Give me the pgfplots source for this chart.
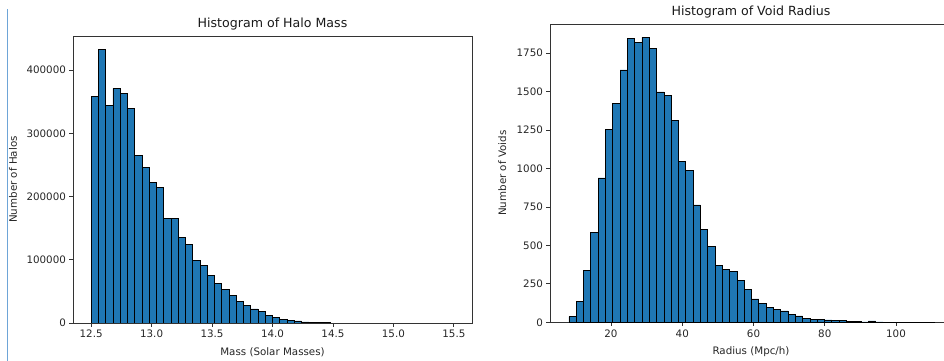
\documentclass[border=0pt]{standalone}
\usepackage{fontspec}
\setmainfont{DejaVu Sans}
\usepackage{pgfplots}
\pgfplotsset{compat=1.18}
\usepackage{pgfplotstable}
\definecolor{mplblue}{HTML}{1F77B4}
\definecolor{cellline}{RGB}{110,165,215}
\pgfplotstableread{
x y
12.50 358000
12.56 432600
12.62 344700
12.68 371000
12.74 362600
12.80 339000
12.86 265000
12.92 245800
12.98 222100
13.04 214700
13.10 165800
13.16 165800
13.22 135800
13.28 124700
13.34 98900
13.40 90500
13.46 75300
13.52 63200
13.58 53700
13.64 43200
13.70 34800
13.76 27400
13.82 22300
13.88 18000
13.94 12600
14.00 8900
14.06 6300
14.12 4700
14.18 3200
14.24 1600
14.30 800
14.36 400
14.42 200
14.48 0
}\halodata
\pgfplotstableread{
x y
8.2 37
10.25 134
12.3 335
14.35 587
16.4 939
18.45 1253
20.5 1422
22.55 1641
24.6 1846
26.65 1820
28.7 1853
30.75 1781
32.8 1498
34.85 1476
36.9 1314
38.95 1046
41.0 989
43.05 763
45.1 606
47.15 491
49.2 369
51.25 344
53.3 330
55.35 275
57.4 216
59.45 152
61.5 123
63.55 95
65.6 84
67.65 74
69.7 50
71.75 41
73.8 26
75.85 19
77.9 19
79.95 15
82.0 11
84.05 11
86.1 6
88.15 6
90.2 2
92.25 9
94.3 2
96.35 1
98.4 1
100.45 0
102.5 1
104.55 0
106.6 0
108.65 1
110.7 0
}\voiddata
\pgfplotsset{
  every axis title shift=0pt,
  mplstyle/.style={
    scale only axis,
    axis line style={black!80, line width=0.8pt},
    tick style={black!80, line width=0.8pt},
    tick align=outside,
    major tick length=3.6pt,
    xtick pos=bottom, ytick pos=left,
    tick label style={font=\fontsize{10.3}{12}\selectfont, text=black!85},
    label style={font=\fontsize{10.3}{12}\selectfont, text=black!85},
    title style={font=\fontsize{12.6}{14}\selectfont, text=black!90},
    /pgf/number format/assume math mode=true,
    /pgf/number format/set thousands separator={},
    scaled ticks=false,
    ymin=0,
  }
}
\begin{document}
\begin{tikzpicture}
\begin{axis}[mplstyle,
  at={(73pt,38pt)}, anchor=south west,
  width=399pt, height=287pt,
  xmin=12.35, xmax=15.65, ymax=454000,
  xtick={12.5,13.0,13.5,14.0,14.5,15.0,15.5},
  xticklabel style={/pgf/number format/fixed, /pgf/number format/fixed zerofill, /pgf/number format/precision=1},
  ytick={0,100000,200000,300000,400000},
  yticklabel style={/pgf/number format/fixed},
  title={Histogram of Halo Mass},
  title style={at={(axis description cs:0.5,1.042)}, anchor=center},
  xlabel={Mass (Solar Masses)},
  xlabel style={at={(axis description cs:0.5,-0.101)}, anchor=center},
  ylabel={Number of Halos},
  ylabel style={at={(axis description cs:-0.150,0.5)}, anchor=center},
]
\addplot[ybar interval, fill=mplblue, draw=black, line width=0.8pt] table[x=x,y=y] {\halodata};
\end{axis}
\begin{axis}[mplstyle,
  at={(550pt,38.7pt)}, anchor=south west,
  width=402pt, height=298.3pt,
  xmin=2.88, xmax=115.72, ymax=1940,
  xtick={20,40,60,80,100},
  ytick={0,250,500,750,1000,1250,1500,1750},
  title={Histogram of Void Radius},
  title style={at={(axis description cs:0.5,1.040)}, anchor=center},
  xlabel={Radius (Mpc/h)},
  xlabel style={at={(axis description cs:0.5,-0.0996)}, anchor=center},
  ylabel={Number of Voids},
  ylabel style={at={(axis description cs:-0.119,0.5)}, anchor=center},
]
\addplot[ybar interval, fill=mplblue, draw=black, line width=0.8pt] table[x=x,y=y] {\voiddata};
\end{axis}
\draw[cellline, line width=0.9pt] (7.5pt,0pt) -- (7.5pt,352pt);
\pgfresetboundingbox
\path[use as bounding box] (0pt,0pt) rectangle (944pt,361pt);
\end{tikzpicture}
\end{document}
